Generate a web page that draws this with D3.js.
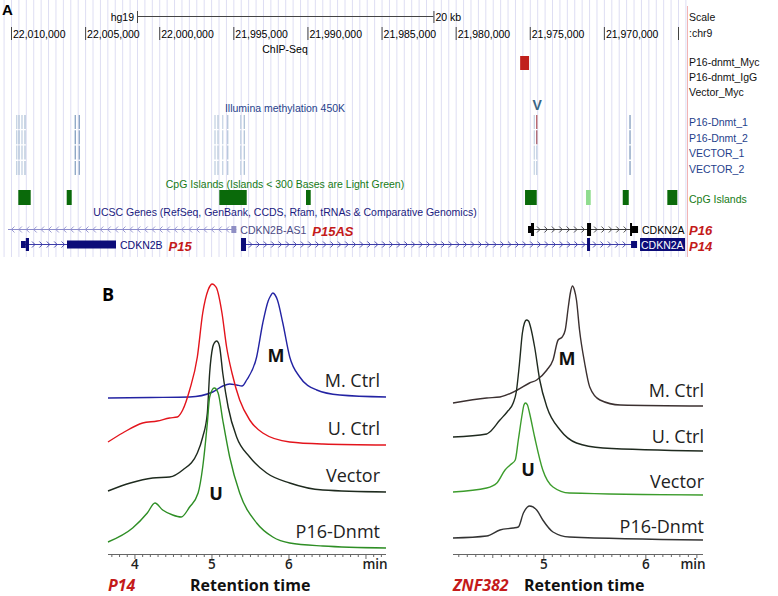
<!DOCTYPE html>
<html><head><meta charset="utf-8">
<script src="https://cdn.jsdelivr.net/npm/d3@7"></script>
<style>body{margin:0;background:#fff}svg{display:block}</style>
</head><body>
<script>
// ---------------- Panel A data ----------------
const genomeTicks = [22010000, 22005000, 22000000, 21995000, 21990000, 21985000, 21980000, 21975000, 21970000, 21965000];
const genomeTickLabels = ["22,010,000","22,005,000","22,000,000","21,995,000","21,990,000","21,985,000","21,980,000","21,975,000","21,970,000",""];
const scaleBar = [22001500, 21981500];
const chipTracks = ["P16-dnmt_Myc","P16-dnmt_IgG","Vector_Myc"];
const chipPeaks = [[0, 21975650, 21975050]];
const methSamples = ["P16-Dnmt_1","P16-Dnmt_2","VECTOR_1","VECTOR_2"];
const probePositions = [22009615,22009460,22009258,22009055,22005662,22005392,21996236,21996034,21995717,21995380,21994502,21994259,21974693,21974531,21968236];
const probeBeta = [
  [0.06,0.10,0.07,0.12,0.20,0.22,0.06,0.09,0.05,0.10,0.07,0.12,0.06,0.55,0.22],
  [0.07,0.12,0.06,0.10,0.22,0.20,0.07,0.08,0.06,0.09,0.06,0.11,0.05,0.52,0.21],
  [0.06,0.11,0.07,0.10,0.21,0.20,0.06,0.09,0.05,0.10,0.07,0.10,0.05,0.06,0.22],
  [0.07,0.10,0.06,0.11,0.20,0.21,0.07,0.08,0.06,0.09,0.06,0.12,0.05,0.07,0.21]
];
const cpgIslands = [[22009507,22008671,0],[22006242,22005905,0],[21995946,21994097,0],[21990097,21989779,0],[21975320,21974531,0],[21971205,21970888,1],[21968728,21968323,0],[21965720,21965045,0]];
const genes = [
  {name:"CDKN2B-AS1", tag:"P15AS", row:0, strand:"<", start:22010300, end:21994800, exons:[[21995135,21994797,"box"]], style:"as"},
  {name:"CDKN2A", tag:"", row:0, strand:">", start:21975118, end:21967696, exons:[[21975118,21974916,"utr"],[21974916,21974714,"cds"],[21971137,21970867,"cds"],[21968236,21968101,"cds"],[21968101,21967696,"utr"]], style:"black"},
  {name:"CDKN2B", tag:"P15", row:1, strand:">", start:22009325, end:22002916, exons:[[22009325,22009000,"utr"],[22009000,22008786,"cds"],[22006222,22002916,"mid"]], style:"navy"},
  {name:"CDKN2A", tag:"", row:1, strand:">", start:21994482, end:21967763, exons:[[21994482,21994145,"cds"],[21971137,21970934,"cds"],[21968168,21967763,"utr"]], style:"navyLabel"}
];
const rightLabels = [["Scale","#111"],[":chr9","#111"],["P16-dnmt_Myc","#111"],["P16-dnmt_IgG","#111"],["Vector_Myc","#111"],["P16-Dnmt_1","#1f3f8c"],["P16-Dnmt_2","#1f3f8c"],["VECTOR_1","#1f3f8c"],["VECTOR_2","#1f3f8c"],["CpG Islands","#167a16"]];

// ---------------- Panel B data ----------------
const traceNames = ["M. Ctrl","U. Ctrl","Vector","P16-Dnmt"];
const p14MCtrl = [[3.65,0],[4.2,0.5],[4.71,1],[5.01,6],[5.14,12],[5.23,14],[5.32,13],[5.39,12],[5.45,18],[5.58,41],[5.66,75],[5.73,97],[5.76,102],[5.79,105],[5.82,103],[5.85,98],[5.92,75],[6.01,41],[6.14,21],[6.36,8],[6.66,3],[7.26,1]];
const p14UCtrl = [[3.65,0],[3.84,9],[4.10,19],[4.29,21],[4.45,24],[4.55,25],[4.62,32],[4.71,52],[4.81,85],[4.88,129],[4.95,152],[4.975,156],[5.00,158],[5.03,157],[5.06,154],[5.13,129],[5.19,95],[5.26,69],[5.36,42],[5.49,22],[5.66,9],[6.01,0],[6.44,-2],[7.26,-3]];
const p14Vector = [[3.65,0],[3.94,8],[4.23,13],[4.45,14],[4.62,21],[4.81,38],[4.88,54],[4.94,78],[4.97,118],[5.01,144],[5.035,148.5],[5.06,150],[5.085,148],[5.10,144],[5.14,118],[5.21,84],[5.32,54],[5.49,34],[5.71,18],[6.01,8],[6.44,1],[7.26,-1]];
const p14P16 = [[3.65,0],[3.97,14],[4.16,29],[4.26,39],[4.36,32],[4.49,27],[4.60,25],[4.71,35],[4.82,49],[4.88,75],[4.94,119],[4.97,145],[5.03,154],[5.08,149],[5.14,122],[5.23,85],[5.36,49],[5.58,19],[5.79,5],[6.01,-1],[6.44,-4],[7.26,-6]];
const p14Offsets = [156,112,63,12];
const znfMCtrl = [[4.11,0],[4.44,5],[4.57,6],[4.74,13],[4.86,20],[4.93,23],[5.03,33],[5.09,43],[5.14,63],[5.18,66],[5.21,73],[5.24,96],[5.26,110],[5.28,117],[5.30,113],[5.32,103],[5.35,73],[5.40,40],[5.45,16],[5.55,3],[5.75,-2],[6.56,-3]];
const znfUCtrl = [[4.11,0],[4.44,3],[4.47,5],[4.57,17],[4.64,25],[4.70,34],[4.73,45],[4.76,72],[4.79,104],[4.81,114],[4.83,117],[4.85,116],[4.87,110],[4.91,90],[4.96,57],[5.03,30],[5.16,7],[5.32,-6],[5.58,-11],[6.56,-14]];
const znfVector = [[4.11,0],[4.44,4],[4.54,9],[4.62,22],[4.67,27],[4.72,32],[4.75,52],[4.79,79],[4.805,87],[4.82,89],[4.84,87],[4.86,79],[4.91,55],[4.99,22],[5.09,5],[5.25,-1],[6.56,-3]];
const znfP16 = [[4.11,0],[4.44,2],[4.57,8],[4.70,10],[4.75,11],[4.80,25],[4.86,32],[4.93,28],[4.99,18],[5.09,6],[5.25,1],[6.56,-2]];
const znfOffsets = [151,117,62,16];
const p14Colors = ["#2323a3","#e3141c","#1e2a1e","#2e8e25"];
const znfColors = ["#3b3030","#1f2a1f","#3c9c2c","#333333"];

// ---------------- Drawing ----------------
const svg = d3.select("body").append("svg").attr("width",778).attr("height",596);
svg.append("rect").attr("width",778).attr("height",596).attr("fill","#fff");
const A = svg.append("g").attr("font-family","'Liberation Sans', Arial, sans-serif");
const gx = d3.scaleLinear().domain([22010000, 21965000]).range([11, 678]);

// guide lines
const guides = d3.range(22010500, 21964000, -500);
A.selectAll("line.guide").data(guides).join("line")
  .attr("x1",d=>gx(d)+0.5).attr("x2",d=>gx(d)+0.5).attr("y1",0).attr("y2",257)
  .attr("stroke","#dedef3").attr("stroke-width",1);
A.append("line").attr("x1",687.5).attr("x2",687.5).attr("y1",6).attr("y2",257).attr("stroke","#f2b4b4");

A.append("text").attr("x",2).attr("y",15).attr("font-size",15).attr("font-weight","bold").text("A");

// scale bar
A.append("line").attr("x1",gx(scaleBar[0])).attr("x2",gx(scaleBar[1])).attr("y1",16.5).attr("y2",16.5).attr("stroke","#444");
scaleBar.forEach(b=>A.append("line").attr("x1",gx(b)+0.5).attr("x2",gx(b)+0.5).attr("y1",11).attr("y2",23).attr("stroke","#444"));
A.append("text").attr("x",gx(scaleBar[0])-3).attr("y",21).attr("text-anchor","end").attr("font-size",10.5).text("hg19");
A.append("text").attr("x",gx(scaleBar[1])+2).attr("y",21).attr("font-size",10.5).text("20 kb");

// ruler ticks
A.selectAll("line.gt").data(genomeTicks).join("line")
  .attr("x1",d=>gx(d)+0.5).attr("x2",d=>gx(d)+0.5).attr("y1",27).attr("y2",40).attr("stroke","#444");
A.selectAll("text.gt").data(genomeTicks).join("text")
  .attr("x",d=>gx(d)+2).attr("y",38).attr("font-size",10.5).text((d,i)=>genomeTickLabels[i]);

A.append("text").attr("x",285).attr("y",53).attr("text-anchor","middle").attr("font-size",10.5).text("ChIP-Seq");
chipPeaks.forEach(p=>{
  A.append("rect").attr("x",gx(p[1])).attr("width",gx(p[2])-gx(p[1])).attr("y",56+p[0]*15).attr("height",14).attr("fill","#c0201c");
});

A.append("text").attr("x",285).attr("y",112).attr("text-anchor","middle").attr("font-size",10.5).attr("fill","#1f3f8c").text("Illumina methylation 450K");
A.append("text").attr("x",gx(probePositions[13])+0.5).attr("y",110).attr("text-anchor","middle").attr("font-size",14).attr("font-weight","bold").attr("fill","#3a6484").text("V");

const betaColor = d3.scaleLinear().domain([0,0.3,0.6]).range(["#dfe7f1","#6c8cb3","#c86060"]);
methSamples.forEach((s,si)=>{
  A.selectAll("line.p"+si).data(probePositions).join("line")
    .attr("x1",d=>gx(d)).attr("x2",d=>gx(d)).attr("y1",115+si*15.3).attr("y2",129+si*15.3)
    .attr("stroke",(d,i)=>betaColor(probeBeta[si][i])).attr("stroke-width",1.4);
});

A.append("text").attr("x",285).attr("y",188).attr("text-anchor","middle").attr("font-size",10.5).attr("fill","#167a16").text("CpG Islands (Islands < 300 Bases are Light Green)");
A.selectAll("rect.cpg").data(cpgIslands).join("rect")
  .attr("x",d=>gx(d[0])).attr("width",d=>gx(d[1])-gx(d[0])).attr("y",190).attr("height",15)
  .attr("fill",d=>d[2]?"#8fdc8f":"#0a6a0a");

A.append("text").attr("x",285).attr("y",216).attr("text-anchor","middle").attr("font-size",10.5).attr("fill","#1a1a80").text("UCSC Genes (RefSeq, GenBank, CCDS, Rfam, tRNAs & Comparative Genomics)");

const rowY = [229.5, 244.5];
const gstyle = {
  as:{line:"#8d8dcc", exon:"#8f8fc4", label:"#4b4b86"},
  black:{line:"#3a3a3a", exon:"#000", label:"#000"},
  navy:{line:"#3c3ca8", exon:"#0c0c78", label:"#0c0c78"},
  navyLabel:{line:"#3c3ca8", exon:"#0c0c78", label:"#fff"}
};
genes.forEach(g=>{
  const st = gstyle[g.style], y = rowY[g.row];
  const x0 = Math.max(8, gx(g.start)), x1 = gx(g.end);
  A.append("line").attr("x1",x0).attr("x2",x1).attr("y1",y).attr("y2",y).attr("stroke",st.line).attr("stroke-width",1);
  const ex = g.exons.map(e=>[gx(e[0]),gx(e[1])]);
  const segs = [];
  let cur = x0;
  ex.forEach(e=>{ if(e[0]-cur>6) segs.push([cur,e[0]]); cur=Math.max(cur,e[1]); });
  if (x1-cur>6) segs.push([cur,x1]);
  segs.forEach(s=>{
    for(let cx=s[0]+5; cx<s[1]-3; cx+=7.4){
      const p = g.strand===">" ? `M${cx-2},${y-3}L${cx+1},${y}L${cx-2},${y+3}` : `M${cx+1.5},${y-3}L${cx-1.5},${y}L${cx+1.5},${y+3}`;
      A.append("path").attr("d",p).attr("fill","none").attr("stroke",st.line).attr("stroke-width",0.9);
    }
  });
  g.exons.forEach(e=>{
    const h = e[2]==="cds"?13:(e[2]==="mid"?8:7);
    A.append("rect").attr("x",gx(e[0])).attr("width",Math.max(1,gx(e[1])-gx(e[0]))).attr("y",y-h/2).attr("height",h).attr("fill",st.exon);
  });
  const lx = x1+3;
  if (g.style==="navyLabel"){
    A.append("rect").attr("x",lx).attr("y",y-6.5).attr("width",45).attr("height",13).attr("fill","#0c0c78");
  }
  const t = A.append("text").attr("x",lx+1).attr("y",y+4.5).attr("font-size",10.5).attr("fill",st.label).text(g.name);
  if (g.tag){
    const w = t.node().getComputedTextLength();
    A.append("text").attr("x",lx+1+w+6).attr("y",y+6).attr("font-size",13).attr("font-weight","bold").attr("font-style","italic").attr("fill","#c41a1a").text(g.tag);
  }
});

const rlY = [21,37,66,81,96,126,142,157,173,203];
rightLabels.forEach((l,i)=>A.append("text").attr("x",689).attr("y",rlY[i]).attr("font-size",10.5).attr("fill",l[1]).text(l[0]));
[["P16",235],["P14",251]].forEach(l=>A.append("text").attr("x",689).attr("y",l[1]).attr("font-size",13).attr("font-weight","bold").attr("font-style","italic").attr("fill","#c41a1a").text(l[0]));

// ---------------- Panel B ----------------
const B = svg.append("g").attr("font-family","'Open Sans', sans-serif");
B.append("text").attr("x",102).attr("y",301).attr("font-size",18).attr("font-weight","bold").text("B");
const yS = d3.scaleLinear().domain([0,280]).range([554,274]);

function chrom(opts){
  const x = d3.scaleLinear().domain(opts.domain).range(opts.range);
  const line = d3.line().x(d=>x(d[0])).curve(d3.curveMonotoneX);
  opts.traces.forEach((tr,i)=>{
    line.y(d=>yS(opts.offsets[i]+d[1]));
    B.append("path").attr("d",line(tr)).attr("fill","none").attr("stroke",opts.colors[i]).attr("stroke-width",1.4).attr("stroke-linejoin","round");
  });
  B.append("line").attr("x1",opts.range[0]).attr("x2",opts.range[1]).attr("y1",554.5).attr("y2",554.5).attr("stroke","#666");
  const minor = d3.range(Math.ceil(opts.domain[0]*opts.perMin), Math.floor(opts.domain[1]*opts.perMin)+1).map(k=>k/opts.perMin);
  B.selectAll(null).data(minor).join("line")
    .attr("x1",d=>x(d)).attr("x2",d=>x(d)).attr("y1",554.5)
    .attr("y2",d=>{const r=Math.abs(d-Math.round(d))<1e-6?4.5:(Math.abs(d*2-Math.round(d*2))<1e-6&&opts.perMin>10?3.5:2.5);return 554.5+r;})
    .attr("stroke","#666").attr("stroke-width",1);
  B.selectAll(null).data(opts.labels).join("text")
    .attr("x",d=>x(d)).attr("y",569).attr("text-anchor","middle").attr("font-size",13.5).attr("font-weight",600).attr("fill","#222").text(d=>d);
  B.append("text").attr("x",opts.minX).attr("y",569).attr("text-anchor","middle").attr("font-size",13.5).attr("font-weight",600).attr("fill","#222").text("min");
  opts.nameY.forEach((yy,i)=>B.append("text").attr("x",opts.nameX).attr("y",yy).attr("text-anchor","end").attr("font-size",18).attr("fill","#222").text(traceNames[i]));
  B.append("text").attr("x",opts.M[0]).attr("y",opts.M[1]).attr("text-anchor","middle").attr("font-size",18).attr("font-weight","bold").attr("fill","#111").text("M");
  B.append("text").attr("x",opts.U[0]).attr("y",opts.U[1]).attr("text-anchor","middle").attr("font-size",18).attr("font-weight","bold").attr("fill","#111").text("U");
  B.append("text").attr("x",opts.range[0]).attr("y",591).attr("font-size",16).attr("font-weight","bold").attr("font-style","italic").attr("fill","#c41a1a").text(opts.gene);
  B.append("text").attr("x",opts.rtX).attr("y",591).attr("font-size",16).attr("font-weight","bold").attr("fill","#111").text("Retention time");
}

chrom({domain:[3.65,7.26], range:[108,386], perMin:10, traces:[p14MCtrl,p14UCtrl,p14Vector,p14P16], offsets:p14Offsets, colors:p14Colors,
  labels:[4,5,6], minX:375, nameX:380, nameY:[387,435,482,538], M:[276,362], U:[216,500], gene:"P14", rtX:190});
chrom({domain:[4.11,6.56], range:[453,703], perMin:12, traces:[znfMCtrl,znfUCtrl,znfVector,znfP16], offsets:znfOffsets, colors:znfColors,
  labels:[5,6], minX:693, nameX:704, nameY:[397,443,488,533], M:[567,365], U:[528,476], gene:"ZNF382", rtX:524});
</script>
</body></html>
